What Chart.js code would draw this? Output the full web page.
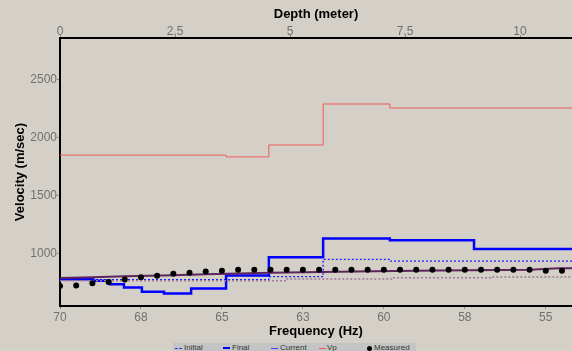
<!DOCTYPE html>
<html><head><meta charset="utf-8">
<script src="https://cdn.jsdelivr.net/npm/chart.js@4/dist/chart.umd.min.js"></script>
<style>
html,body{margin:0;padding:0;background:#d4d0c8;overflow:hidden;}
#wrap{position:relative;width:572px;height:351px;}
#legend{position:absolute;left:173px;top:343px;width:243px;height:12px;background:#c4c4c4;font:8px "Liberation Sans",Arial,sans-serif;color:#333;}
.li{position:absolute;top:0;height:10px;line-height:10px;white-space:nowrap;}
.sym{position:absolute;}
</style></head><body>
<div id="wrap"><canvas id="c" width="572" height="351"></canvas><div id="legend"></div></div>
<script>
// ---- tick labels ----
const depthTicks = [0, 2.5, 5, 7.5, 10];
const depthTickLabels = ['0', '2.5', '5', '7.5', '10'];
const freqTicks = [70, 67.5, 65, 62.5, 60, 57.5, 55];
const freqTickLabels = ['70', '68', '65', '63', '60', '58', '55'];
const velTicks = [1000, 1500, 2000, 2500];
const velTickLabels = ['1000', '1500', '2000', '2500'];

// ---- velocity profiles vs depth (layer tops, m) ----
const finalTops = [0, 0.72, 1.09, 1.39, 1.78, 2.26, 2.85, 3.61, 4.54, 5.72, 7.17, 9.0, 11.4];
const finalVs   = [775, 763, 732, 704, 668, 652, 695, 808, 965, 1128, 1112, 1037, 1037];
const currentTops = [0, 0.72, 1.09, 1.39, 1.78, 2.26, 2.85, 3.61, 4.54, 5.72, 7.17, 9.0, 11.4];
const currentVs   = [775, 763, 732, 704, 668, 652, 695, 808, 965, 1128, 1112, 1037, 1037];
const initialTops = [0, 4.54, 5.72, 7.17, 11.4];
const initialVs   = [773, 798, 948, 933, 933];
const vpTops = [0, 3.61, 4.54, 5.72, 7.17, 11.4];
const vpValues = [1850, 1834, 1937, 2292, 2257, 2257];

// ---- dispersion curves vs frequency (Hz) ----
const measuredFreq = [70, 69.5, 69, 68.5, 68, 67.5, 67, 66.5, 66, 65.5, 65, 64.5, 64, 63.5, 63, 62.5,
                      62, 61.5, 61, 60.5, 60, 59.5, 59, 58.5, 58, 57.5, 57, 56.5, 56, 55.5, 55, 54.5];
const measuredVel  = [717, 721, 741, 752, 773, 792, 806, 823, 831, 842, 849, 857, 858, 858, 858, 858,
                      858, 858, 858, 858, 858, 858, 858, 858, 858, 858, 858, 858, 858, 858, 849, 849];
const finalCurveFreq = [70, 69, 68, 66.5, 65.5, 63.5, 60.3, 58.3, 55.5, 54.6, 54];
const finalCurveVel  = [786, 792, 802, 810, 819, 831, 845, 852, 858, 870, 870];
const initialCurveFreq = [70, 63, 59.7, 56.7, 54];
const initialCurveVel  = [763, 778, 789, 795, 795];

const pts = (xs, ys) => xs.map((x, i) => ({x: x, y: ys[i]}));
Chart.defaults.font.family = '"Liberation Sans", Arial, sans-serif';

const tickFont = {size: 12};
const titleFont = {size: 13, weight: 'bold'};
const GRAY = '#707070';

const chart = new Chart(document.getElementById('c'), {
  type: 'scatter',
  data: {
    datasets: [
      {label: 'Measured', data: pts(measuredFreq, measuredVel), xAxisID: 'freq', yAxisID: 'y',
       showLine: false, pointRadius: 3, pointBackgroundColor: '#000', pointBorderWidth: 0, order: 0},
      {label: 'Final curve', data: pts(finalCurveFreq, finalCurveVel), xAxisID: 'freq', yAxisID: 'y',
       showLine: true, borderColor: '#5c265c', borderWidth: 2, pointRadius: 0, order: 1},
      {label: 'Initial curve', data: pts(initialCurveFreq, initialCurveVel), xAxisID: 'freq', yAxisID: 'y',
       showLine: true, stepped: true, borderColor: '#a07a98', borderWidth: 1.5, borderDash: [2, 2], pointRadius: 0, order: 2},
      {label: 'Final', data: pts(finalTops, finalVs), xAxisID: 'depth', yAxisID: 'y',
       showLine: true, stepped: true, borderColor: '#0000ff', borderWidth: 2.5, pointRadius: 0, order: 3},
      {label: 'Current', data: pts(currentTops, currentVs), xAxisID: 'depth', yAxisID: 'y',
       showLine: true, stepped: true, borderColor: '#4040ff', borderWidth: 1, pointRadius: 0, order: 4},
      {label: 'Initial', data: pts(initialTops, initialVs), xAxisID: 'depth', yAxisID: 'y',
       showLine: true, stepped: true, borderColor: '#2020ff', borderWidth: 1.3, borderDash: [2, 2], pointRadius: 0, order: 5},
      {label: 'Vp', data: pts(vpTops, vpValues), xAxisID: 'depth', yAxisID: 'y',
       showLine: true, stepped: true, borderColor: '#f05a5a', borderWidth: 1, pointRadius: 0, order: 6}
    ]
  },
  options: {
    animation: false, responsive: false, devicePixelRatio: 1,
    layout: {padding: 0, autoPadding: false},
    plugins: {legend: {display: false}, tooltip: {enabled: false}},
    scales: {
      depth: {
        type: 'linear', position: 'top', min: 0, max: 11.13,
        afterBuildTicks: s => { s.ticks = depthTicks.map(v => ({value: v})); },
        afterFit: s => { s.height = 38; },
        ticks: {callback: v => depthTickLabels[depthTicks.indexOf(v)], color: GRAY, font: tickFont,
                padding: -4, maxRotation: 0, autoSkip: false},
        grid: {drawOnChartArea: false, tickLength: 3, color: '#8a8a8a'},
        border: {color: '#000', width: 2},
        title: {display: true, text: 'Depth (meter)', font: titleFont, color: '#000', padding: {top: 7, bottom: 0}}
      },
      freq: {
        type: 'linear', position: 'bottom', reverse: true, min: 54.19, max: 70,
        afterBuildTicks: s => { s.ticks = freqTicks.map(v => ({value: v})); },
        afterFit: s => { s.height = 45; },
        ticks: {callback: v => freqTickLabels[freqTicks.indexOf(v)], color: GRAY, font: tickFont,
                padding: 1, maxRotation: 0, autoSkip: false},
        grid: {drawOnChartArea: false, tickLength: 3, color: '#8a8a8a'},
        border: {color: '#000', width: 2},
        title: {display: true, text: 'Frequency (Hz)', font: titleFont, color: '#000', padding: {top: 0, bottom: 12}}
      },
      y: {
        type: 'linear', position: 'left', min: 544, max: 2863,
        afterBuildTicks: s => { s.ticks = velTicks.map(v => ({value: v})); },
        afterFit: s => { s.width = 60; },
        ticks: {callback: v => velTickLabels[velTicks.indexOf(v)], color: GRAY, font: tickFont, padding: 0, autoSkip: false},
        grid: {drawOnChartArea: false, tickLength: 3, color: '#8a8a8a'},
        border: {color: '#000', width: 2},
        title: {display: true, text: 'Velocity (m/sec)', font: titleFont, color: '#000', padding: {top: 13, bottom: 0}}
      }
    }
  }
});

// ---- HTML legend ----
const legendItems = [
  {label: 'Initial', sx: 2, tx: 11, kind: 'dash', color: '#2020ff'},
  {label: 'Final', sx: 50, tx: 59, kind: 'thick', color: '#0000ff'},
  {label: 'Current', sx: 98, tx: 107, kind: 'thin', color: '#4040ff'},
  {label: 'Vp', sx: 146, tx: 154, kind: 'thin', color: '#f05a5a'},
  {label: 'Measured', sx: 194, tx: 201, kind: 'dot', color: '#000'}
];
const lg = document.getElementById('legend');
legendItems.forEach(it => {
  const s = document.createElement('div');
  s.className = 'sym';
  if (it.kind === 'dot') {
    s.style.cssText = `left:${it.sx}px;top:3px;width:5px;height:5px;border-radius:50%;background:${it.color};`;
  } else if (it.kind === 'dash') {
    s.style.cssText = `left:${it.sx}px;top:5px;width:7px;height:0;border-top:1px dashed ${it.color};`;
  } else {
    s.style.cssText = `left:${it.sx}px;top:${it.kind === 'thick' ? 4 : 5}px;width:7px;height:0;border-top:${it.kind === 'thick' ? 2 : 1}px solid ${it.color};`;
  }
  lg.appendChild(s);
  const t = document.createElement('div');
  t.className = 'li';
  t.style.left = it.tx + 'px';
  t.textContent = it.label;
  lg.appendChild(t);
});
</script>
</body></html>
